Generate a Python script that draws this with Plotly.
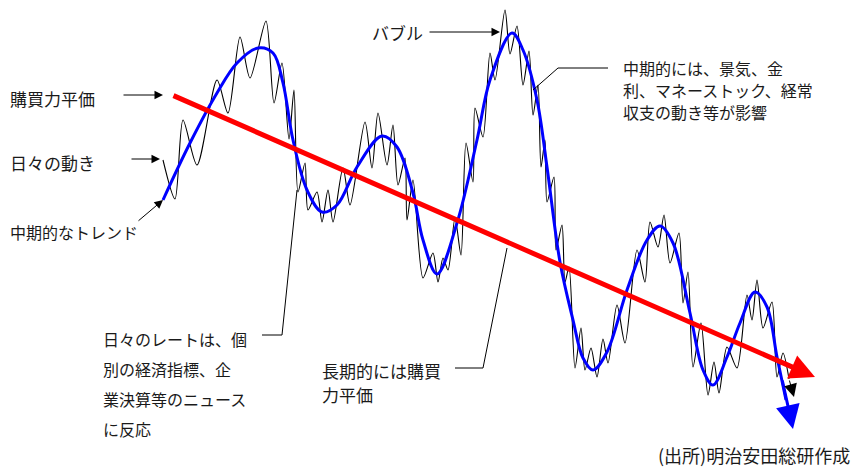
import plotly.graph_objects as go

# ---- data (in picture units: x to the right, y downward) ----
# long-term purchasing-power-parity trend (start, end)
ppp_x = [172, 815]
ppp_y = [95, 377]

# medium-term trend (blue)
trend_x = [163, 190, 217, 237, 258, 273, 283, 293, 307, 322, 337, 357, 382, 397, 413, 423,
           437, 457, 477, 490, 512, 523, 537, 547, 560, 573, 583, 593, 607, 627, 647, 660,
           673, 690, 703, 713, 727, 740, 755, 767, 777, 786]
trend_y = [200, 143, 93, 63, 48, 53, 83, 140, 190, 212, 205, 167, 136, 147, 193, 240,
           274, 223, 140, 80, 33, 50, 100, 167, 262, 320, 358, 370, 352, 290, 240, 226,
           243, 313, 370, 385, 357, 323, 292, 307, 357, 400]
trend_tip = (793, 429)

# daily movement (black): successive highs and lows
daily_x = [163, 175, 183, 197, 217, 228, 240, 250, 266, 274, 282, 289, 294, 298, 305, 308,
           317, 322, 328, 333, 343, 350, 365, 372, 378, 387, 393, 398, 405, 407, 413, 423,
           433, 438, 443, 448, 455, 461, 466, 473, 475, 483, 490, 495, 505, 510, 517, 523,
           529, 533, 538, 541, 545, 547, 554, 556, 562, 565, 569, 575, 581, 585, 591, 597,
           603, 608, 617, 625, 637, 645, 650, 658, 664, 670, 679, 683, 688, 693, 701, 708,
           714, 719, 727, 737, 747, 752, 757, 763, 772, 777, 783, 789]
daily_y = [160, 199, 120, 165, 80, 113, 37, 78, 21, 103, 63, 139, 90, 192, 163, 210,
           192, 222, 190, 222, 168, 205, 122, 168, 113, 165, 125, 185, 158, 220, 180, 278,
           253, 282, 258, 270, 218, 255, 143, 182, 108, 137, 53, 80, 10, 54, 26, 85,
           51, 115, 85, 167, 140, 202, 177, 250, 225, 282, 267, 368, 328, 370, 348, 377,
           339, 363, 305, 343, 250, 282, 222, 247, 215, 263, 233, 303, 272, 367, 323, 395,
           362, 393, 347, 368, 295, 320, 280, 328, 302, 377, 353, 379]
daily_tip = (794, 397)

FONT = "Noto Sans CJK JP"
TXT = "#1a1a1a"

fig = go.Figure()
fig.add_trace(go.Scatter(x=daily_x, y=daily_y, mode="lines",
                         line=dict(color="black", width=1.1, shape="spline", smoothing=0.8),
                         hoverinfo="skip"))
fig.add_trace(go.Scatter(x=trend_x, y=trend_y, mode="lines",
                         line=dict(color="#0000ff", width=3, shape="spline", smoothing=1),
                         hoverinfo="skip"))

ann = []


def arrow(x0, y0, x1, y1, color, width, size, head=2):
    ann.append(dict(x=x1, y=y1, ax=x0, ay=y0, xref="x", yref="y", axref="x", ayref="y",
                    showarrow=True, arrowhead=head, arrowsize=size, arrowwidth=width,
                    arrowcolor=color, standoff=0, startstandoff=0, text=""))


def label(x, y, t, size=16, anchor="left"):
    ann.append(dict(x=x, y=y, xref="x", yref="y", text=t, showarrow=False,
                    xanchor=anchor, yanchor="middle",
                    font=dict(family=FONT, size=size, color=TXT)))


# red PPP arrow
arrow(ppp_x[0], ppp_y[0], ppp_x[1], ppp_y[1], "#ff0000", 5, 1.0)
# blue trend arrow end
arrow(trend_x[-2] + 5, trend_y[-2] + 22, trend_tip[0], trend_tip[1], "#0000ff", 3, 1.6)
# black daily arrow end
arrow(daily_x[-1], daily_y[-1], daily_tip[0], daily_tip[1], "black", 1, 2.6)

# left-side pointer arrows
arrow(122, 95, 163, 95, "black", 1, 1.7)
arrow(130, 159, 160, 159, "black", 1, 1.7)
arrow(137, 222, 163, 200, "black", 1, 1.7)
# バブル pointer
arrow(428, 32, 500, 32, "black", 1, 1.7)

# labels
label(8, 98, "購買力平価", 17)
label(8, 162, "日々の動き", 17)
label(8, 232, "中期的なトレンド")
label(370, 32, "バブル", 17)
for i, t in enumerate(["中期的には、景気、金", "利、マネーストック、経常", "収支の動き等が影響"]):
    label(621, 68 + 22 * i, t)
for i, t in enumerate(["日々のレートは、個", "別の経済指標、企", "業決算等のニュース", "に反応"]):
    label(101, 339 + 30 * i, t)
for i, t in enumerate(["長期的には購買", "力平価"]):
    label(320, 370 + 24 * i, t, 17)
label(852, 455, "(出所)明治安田総研作成", 18, anchor="right")

# leader lines
leaders = [
    ([262, 282, 297], [335, 335, 190]),
    ([455, 483, 507], [368, 368, 248]),
    ([608, 558, 533], [68, 68, 90]),
]
shapes = []
for xs, ys in leaders:
    path = "M" + " L".join(f"{x},{y}" for x, y in zip(xs, ys))
    shapes.append(dict(type="path", path=path, xref="x", yref="y",
                       line=dict(color="black", width=1)))

fig.update_layout(
    width=857, height=468,
    margin=dict(l=0, r=0, t=0, b=0),
    paper_bgcolor="white", plot_bgcolor="white",
    showlegend=False,
    xaxis=dict(range=[0, 857], visible=False, fixedrange=True),
    yaxis=dict(range=[468, 0], visible=False, fixedrange=True),
    annotations=ann, shapes=shapes,
)
fig.write_html("out.html")
